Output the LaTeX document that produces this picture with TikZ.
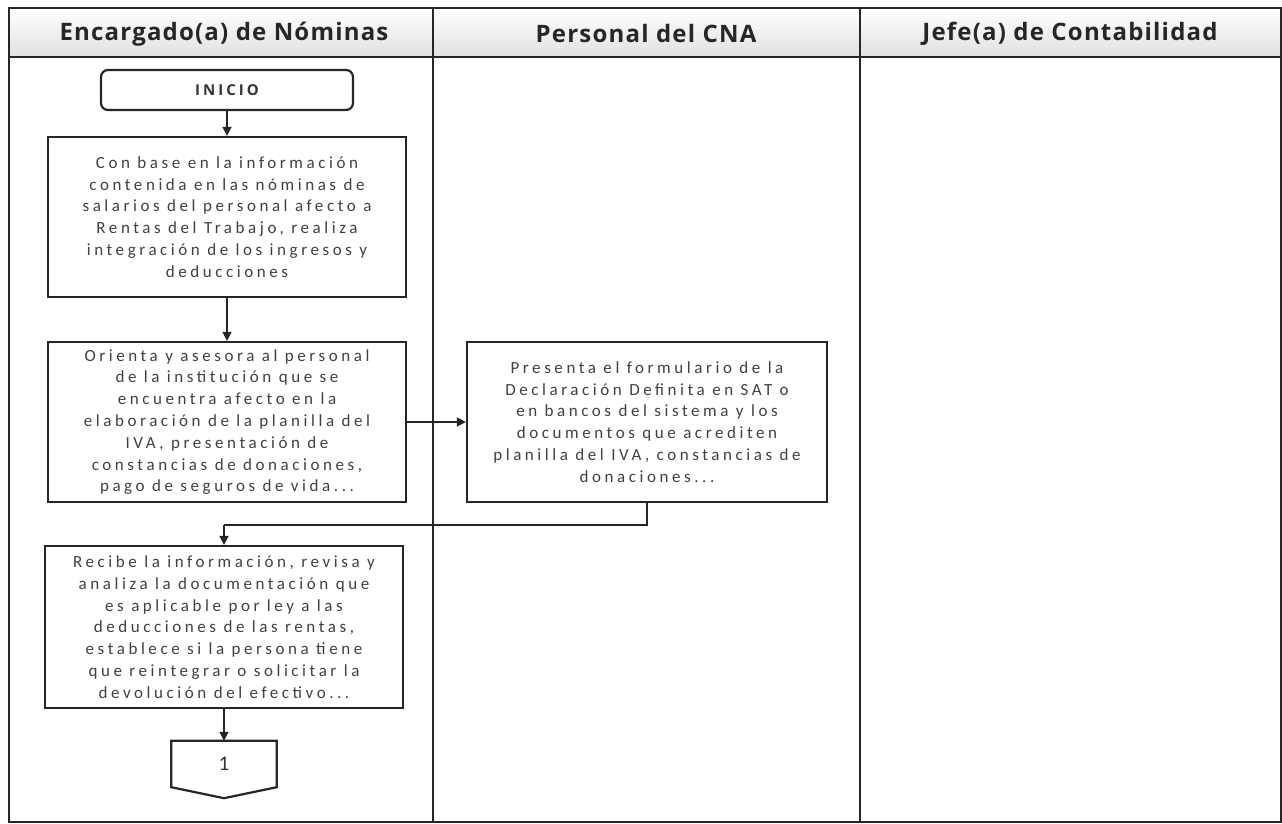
\documentclass[tikz,border=0pt]{standalone}
\usepackage{fontspec}
\setmainfont{Carlito}
\newfontfamily\headfont{Open Sans}[LetterSpace=5]
\newfontfamily\startfont{Open Sans}[LetterSpace=20]
\newfontfamily\bodyfont{Carlito}[LetterSpace=21]
\usetikzlibrary{arrows.meta}
\begin{document}
\begin{tikzpicture}[x=1pt,y=-1pt,
  lane/.style={line width=2.6pt,draw=black!85},
  head/.style={font=\headfont\fontsize{24}{26}\selectfont\bfseries,text=black!85},
  procbox/.style={draw=black!85,line width=2.2pt,rectangle,minimum width=358pt,minimum height=160pt,
    align=center,text=black!75,inner sep=0pt,
    font=\bodyfont\fontsize{17}{21.8}\selectfont},
  startbox/.style={draw=black!85,line width=2.2pt,rounded corners=7pt,minimum width=252pt,minimum height=40pt,
    font=\startfont\fontsize{15}{18}\selectfont\bfseries,text=black!80},
  flow/.style={line width=1.5pt,draw=black!85,-{Triangle[length=9pt,width=9pt]}},
  plain/.style={line width=1.5pt,draw=black!85}]
\useasboundingbox (0,0) rectangle (1282,824);
\fill[white] (0,0) rectangle (1282,824);

% swimlane frame and header row
\shade[top color=white,bottom color=black!12] (9,8) rectangle (1281,57);
\draw[lane] (9,8) rectangle (1281,822);
\draw[lane] (9,57) -- (1281,57);
\draw[lane] (433,8) -- (433,822);
\draw[lane] (860,8) -- (860,822);
\node[head] (h1) at (224,34) {Encargado(a) de Nóminas};
\node[head] (h2) at (646,34) {Personal del CNA};
\node[head] (h3) at (1070,34) {Jefe(a) de Contabilidad};

% process steps
\node[startbox] (inicio) at (227,90) {INICIO};
\node[procbox] (b1) at (227,217) {Con base en la información\\contenida en las nóminas de\\salarios del personal afecto a\\Rentas del Trabajo, realiza\\integración de los ingresos y\\deducciones};
\node[procbox] (b2) at (227,422) {Orienta y asesora al personal\\de la institución que se\\encuentra afecto en la\\elaboración de la planilla del\\IVA, presentación de\\constancias de donaciones,\\pago de seguros de vida...};
\node[procbox,minimum width=360pt] (b3) at (647,422) {Presenta el formulario de la\\Declaración Definita en SAT o\\en bancos del sistema y los\\documentos que acrediten\\planilla del IVA, constancias de\\donaciones...};
\node[procbox,minimum height=162pt] (b4) at (224,627) {Recibe la información, revisa y\\analiza la documentación que\\es aplicable por ley a las\\deducciones de las rentas,\\establece si la persona tiene\\que reintegrar o solicitar la\\devolución del efectivo...};

% off-page connector
\node[minimum width=105pt,minimum height=46pt,inner sep=0pt,font=\fontsize{21}{22}\selectfont,text=black!80] (c1) at (224,764) {1};
\draw[line width=2.2pt,draw=black!85] (c1.north west) -- (c1.north east) -- (c1.south east)
  -- ([yshift=-11pt]c1.south) -- (c1.south west) -- cycle;

% connectors
\coordinate (j) at (224,525);
\draw[flow] (inicio) -- (b1);
\draw[flow] (b1) -- (b2);
\draw[flow] (b2.east) -- (b2.east -| b3.west);
\draw[plain] (b3.south) |- (j);
\draw[flow] (j) -- (b4.north);
\draw[flow] (b4) -- (c1);
\end{tikzpicture}
\end{document}
